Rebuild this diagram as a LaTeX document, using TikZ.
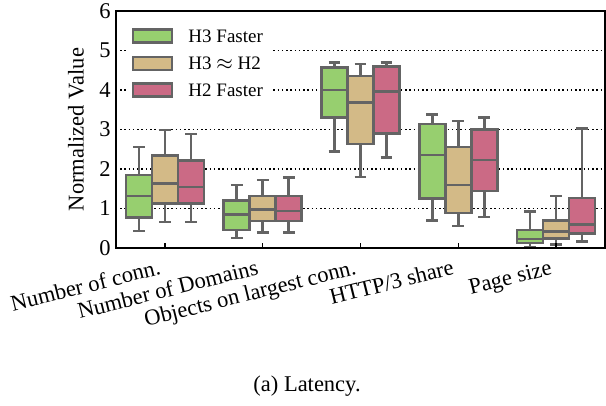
\documentclass[tikz,border=0pt]{standalone}
\usepackage{fontspec}
\setmainfont{Liberation Serif}
\usepackage{xcolor}
\usepackage{tikz}
\definecolor{fastgreen}{RGB}{151,207,111}
\definecolor{eqtan}{RGB}{211,186,135}
\definecolor{slowpink}{RGB}{203,106,133}
\definecolor{edgegray}{RGB}{100,100,100}

\begin{document}
\begin{tikzpicture}[x=39.12pt, y=15.8pt, font=\fontsize{9}{10.8}\selectfont,
  grid/.style={line width=0.6pt, dash pattern=on 0.6pt off 1.1pt},
  bx/.style={draw=edgegray, line width=1pt},
  leg/.style={anchor=west, inner sep=0pt, font=\fontsize{7.6}{9}\selectfont}]
  \useasboundingbox (-0.686,-3.975) rectangle (5.510,6.278);
  \foreach \v in {1,...,5}
    \draw[grid] (0.5,\v) -- (5.5,\v);
  \fill[white] (0.6,3.62) rectangle (2.105,5.98);
  \foreach \g/\k/\col/\lw/\lq/\md/\uq/\uw in {
      1/0/fastgreen/0.43/0.77/1.32/1.85/2.56, 1/1/eqtan/0.66/1.13/1.63/2.34/2.99, 1/2/slowpink/0.66/1.13/1.54/2.21/2.89,
      2/0/fastgreen/0.25/0.46/0.85/1.20/1.59, 2/1/eqtan/0.39/0.68/0.98/1.32/1.72, 2/2/slowpink/0.39/0.68/0.94/1.32/1.79,
      3/0/fastgreen/2.44/3.30/4.00/4.57/4.70, 3/1/eqtan/1.80/2.63/3.68/4.36/4.66, 3/2/slowpink/2.29/2.90/3.96/4.59/4.69,
      4/0/fastgreen/0.69/1.25/2.35/3.14/3.38, 4/1/eqtan/0.56/0.88/1.59/2.56/3.22, 4/2/slowpink/0.78/1.44/2.23/3.00/3.30,
      5/0/fastgreen/0.03/0.13/0.23/0.46/0.92, 5/1/eqtan/0.09/0.24/0.42/0.69/1.32, 5/2/slowpink/0.16/0.37/0.60/1.26/3.03}
  {
    \pgfmathsetmacro\xc{\g+(\k-1)*0.266}
    \draw[bx] (\xc,\lq) -- (\xc,\lw) (\xc-0.06,\lw) -- (\xc+0.06,\lw);
    \draw[bx] (\xc,\uq) -- (\xc,\uw) (\xc-0.06,\uw) -- (\xc+0.06,\uw);
    \draw[bx, fill=\col] (\xc-0.133,\lq) rectangle (\xc+0.133,\uq);
    \draw[bx] (\xc-0.133,\md) -- (\xc+0.133,\md);
  }
  \draw[line width=0.6pt] (0.5,0) rectangle (5.5,6);
  \foreach \i/\t in {1/Number of conn., 2/Number of Domains, 3/Objects on largest conn., 4/{HTTP/3 share}, 5/Page size} {
    \draw[line width=0.6pt] (\i,0) -- (\i,0.13);
    \node[anchor=base east, rotate=14, inner sep=0pt] (xl\i) at (\i-0.03,-0.66) {\t};
  }
  \foreach \v in {0,...,6}
    \node[anchor=east, inner sep=0pt] (yl\v) at (0.45,\v) {\v};
  \node[rotate=90] (ylab) at (0.091,3) {Normalized Value};
  \foreach \n/\col/\t/\y in {a/fastgreen/H3 Faster/5.367, b/eqtan/H3 $\approx$ H2/4.676, c/slowpink/H2 Faster/4.0} {
    \draw[bx, fill=\col] (0.674,\y-0.165) rectangle (1.073,\y+0.165);
    \node[leg] (leg\n) at (1.236,\y) {\t};
  }
  \node (cap) at (2.453,-3.49) {(a) Latency.};
\end{tikzpicture}
\end{document}
